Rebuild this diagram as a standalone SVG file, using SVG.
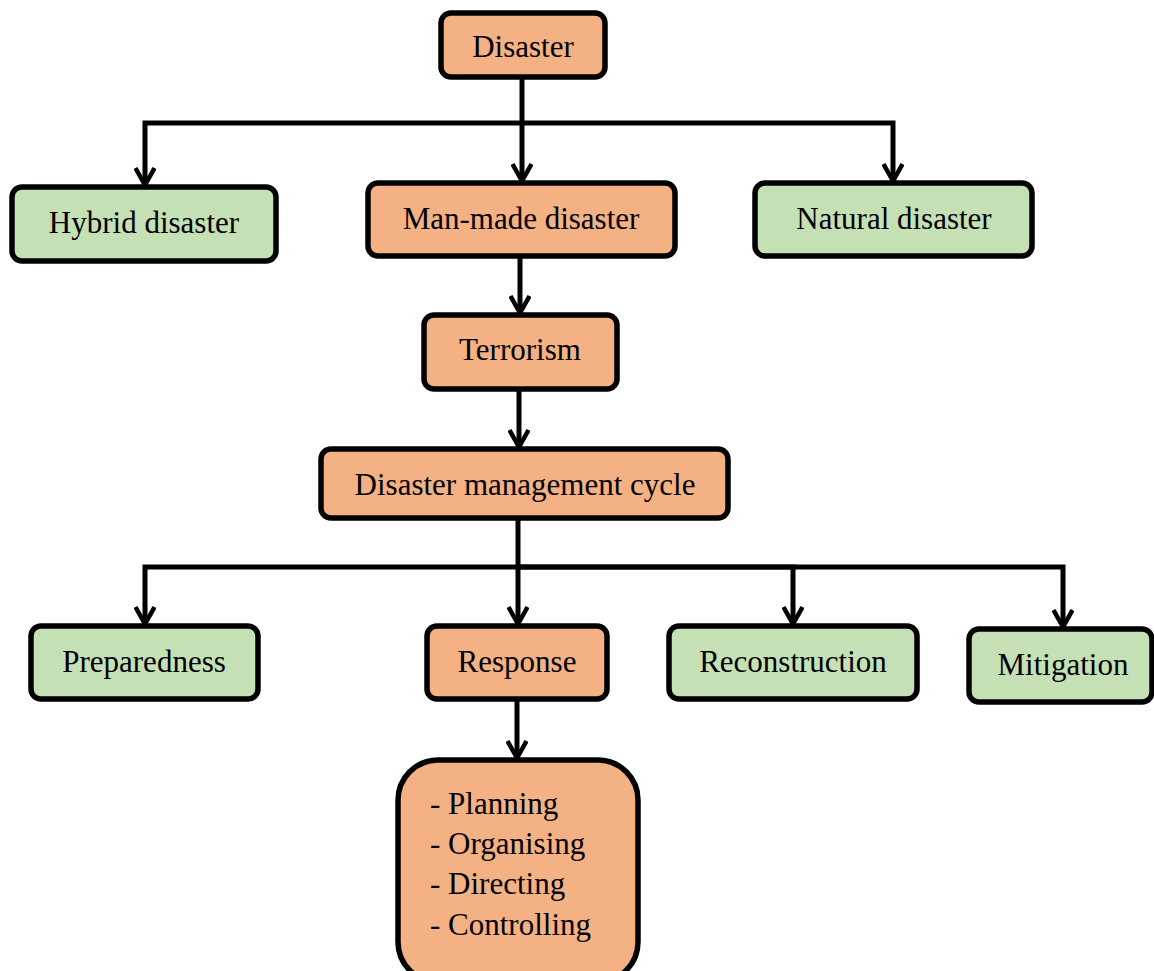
<svg xmlns="http://www.w3.org/2000/svg" width="1154" height="971" viewBox="0 0 1154 971">
  <style>
    .box { stroke: #000; stroke-width: 5.5; }
    .orange { fill: #f4b183; }
    .green { fill: #c5e0b4; }
    .lbl { font-family: "Liberation Serif", "Times New Roman", serif; font-size: 31px; fill: #000; text-anchor: middle; }
    .list { font-family: "Liberation Serif", "Times New Roman", serif; font-size: 31px; fill: #000; }
    .wire { fill: none; stroke: #000; stroke-width: 5; }
  </style>
  <defs>
    <!-- open V arrowhead, drawn along +x so orient="auto" turns it with the line -->
    <marker id="arrow" viewBox="0 0 22 22" refX="19" refY="11" markerWidth="22" markerHeight="22" markerUnits="userSpaceOnUse" orient="auto">
      <polyline points="2,1.5 19,11 2,20.5" fill="none" stroke="#000" stroke-width="4.5" stroke-linejoin="miter"/>
    </marker>
  </defs>
  <rect width="1154" height="971" fill="#fff"/>

  <g id="connectors">
    <path class="wire" d="M522 77 V181" marker-end="url(#arrow)"/>
    <path class="wire" d="M522 123 H145 V185" marker-end="url(#arrow)"/>
    <path class="wire" d="M522 123 H893 V181" marker-end="url(#arrow)"/>
    <path class="wire" d="M520 256 V313" marker-end="url(#arrow)"/>
    <path class="wire" d="M519 389 V447" marker-end="url(#arrow)"/>
    <path class="wire" d="M518 518 V624" marker-end="url(#arrow)"/>
    <path class="wire" d="M518 567 H145 V624" marker-end="url(#arrow)"/>
    <path class="wire" d="M518 567 H793 V624" marker-end="url(#arrow)"/>
    <path class="wire" d="M518 567 H1063 V627" marker-end="url(#arrow)"/>
    <path class="wire" d="M517 699 V758" marker-end="url(#arrow)"/>
  </g>

  <g id="disaster">
    <rect class="box orange" x="441" y="13" width="164" height="64" rx="10"/>
    <text class="lbl" x="523" y="57">Disaster</text>
  </g>
  <g id="hybrid-disaster">
    <rect class="box green" x="12" y="187" width="264" height="74" rx="10"/>
    <text class="lbl" x="144" y="233">Hybrid disaster</text>
  </g>
  <g id="man-made-disaster">
    <rect class="box orange" x="368" y="183" width="307" height="73" rx="10"/>
    <text class="lbl" x="521" y="229">Man-made disaster</text>
  </g>
  <g id="natural-disaster">
    <rect class="box green" x="755" y="183" width="277" height="73" rx="10"/>
    <text class="lbl" x="894" y="229">Natural disaster</text>
  </g>
  <g id="terrorism">
    <rect class="box orange" x="424" y="315" width="193" height="74" rx="10"/>
    <text class="lbl" x="520" y="360">Terrorism</text>
  </g>
  <g id="disaster-management-cycle">
    <rect class="box orange" x="321" y="449" width="407" height="69" rx="10"/>
    <text class="lbl" x="525" y="495">Disaster management cycle</text>
  </g>
  <g id="preparedness">
    <rect class="box green" x="31" y="626" width="227" height="73" rx="10"/>
    <text class="lbl" x="144" y="672">Preparedness</text>
  </g>
  <g id="response">
    <rect class="box orange" x="427" y="626" width="180" height="73" rx="10"/>
    <text class="lbl" x="517" y="672">Response</text>
  </g>
  <g id="reconstruction">
    <rect class="box green" x="669" y="626" width="248" height="73" rx="10"/>
    <text class="lbl" x="793" y="672">Reconstruction</text>
  </g>
  <g id="mitigation">
    <rect class="box green" x="969" y="629" width="183" height="73" rx="10"/>
    <text class="lbl" x="1063" y="675">Mitigation</text>
  </g>
  <g id="response-tasks">
    <rect class="box orange" x="398" y="760" width="240" height="222" rx="40"/>
    <text class="list" x="430" y="814">- Planning</text>
    <text class="list" x="430" y="854">- Organising</text>
    <text class="list" x="430" y="894">- Directing</text>
    <text class="list" x="430" y="935">- Controlling</text>
  </g>
</svg>
